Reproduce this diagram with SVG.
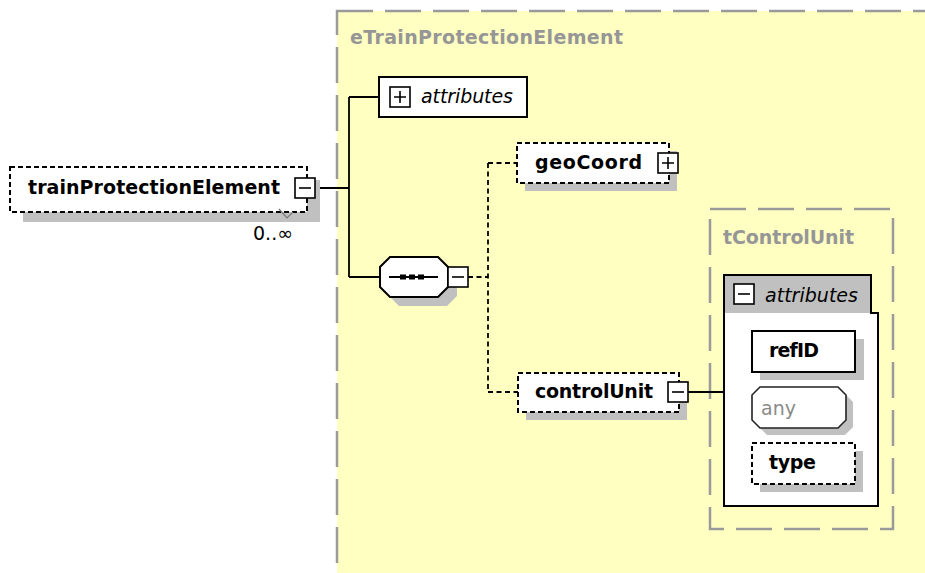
<svg xmlns="http://www.w3.org/2000/svg" width="925" height="573" viewBox="0 0 925 573">
  <style>
    .name { font-family: "DejaVu Sans", Verdana, sans-serif; font-weight: bold; font-size: 19px; fill: #000; }
    .title { font-family: "DejaVu Sans", Verdana, sans-serif; font-weight: bold; font-size: 19px; fill: #969696; }
    .attr { font-family: "DejaVu Sans", Verdana, sans-serif; font-style: italic; font-size: 19px; fill: #000; }
    .plain { font-family: "DejaVu Sans", Verdana, sans-serif; font-size: 19px; fill: #000; }
    .anytxt { font-family: "DejaVu Sans", Verdana, sans-serif; font-size: 19px; fill: #8a8a8a; }
    .type-box { fill: #FFFFC2; stroke: #9a9a9a; stroke-width: 2.5; stroke-dasharray: 36 12; }
    .shadow { fill: #C0C0C0; stroke: none; }
    .solid { fill: #fff; stroke: #000; stroke-width: 2; }
    .dashed { fill: #fff; stroke: #000; stroke-width: 2; stroke-dasharray: 5 3; }
    .btn { fill: #fff; stroke: #000; stroke-width: 1.6; }
    .sign { stroke: #000; stroke-width: 1.6; fill: none; }
    .link { stroke: #000; stroke-width: 1.8; fill: none; }
    .link-opt { stroke: #000; stroke-width: 1.8; fill: none; stroke-dasharray: 5 3.5; }
  </style>

  <rect width="925" height="573" fill="#fff"/>

  <!-- complex type eTrainProtectionElement -->
  <g id="eTrainProtectionElement">
    <rect class="type-box" x="337" y="11" width="640" height="620"/>
    <text class="title" x="350" y="44" textLength="273">eTrainProtectionElement</text>
  </g>

  <!-- complex type tControlUnit -->
  <g id="tControlUnit">
    <rect class="type-box" x="710" y="209" width="183" height="320"/>
    <text class="title" x="723" y="244" textLength="131">tControlUnit</text>
  </g>

  <!-- connectors -->
  <g id="connectors">
    <path class="link" d="M315,188 H349 M349,97 V277 M349,97 H379 M349,277 H380"/>
    <path class="link-opt" d="M468,277 H488 M488,163 V392 M488,163 H517 M488,392 H518"/>
    <path class="link" d="M688,392 H724"/>
  </g>

  <!-- root element -->
  <g id="trainProtectionElement">
    <rect class="shadow" x="23" y="180" width="297" height="42"/>
    <rect class="dashed" x="10" y="167" width="297" height="45"/>
    <path d="M279,209 L287,218 L293,212" stroke="#777" stroke-width="1.2" fill="none"/>
    <text class="name" x="28" y="194" textLength="252">trainProtectionElement</text>
    <rect class="btn" x="295" y="178" width="20" height="20"/>
    <path class="sign" d="M299,188 H311"/>
    <text class="plain" x="253" y="240">0..∞</text>
  </g>

  <!-- attribute group (collapsed) -->
  <g id="attributes-top">
    <rect class="solid" x="379" y="77" width="148" height="40"/>
    <rect class="btn" x="390" y="87" width="20" height="20"/>
    <path class="sign" d="M394,97 H406 M400,91 V103"/>
    <text class="attr" x="421" y="103" textLength="92">attributes</text>
  </g>

  <!-- sequence compositor -->
  <g id="sequence">
    <path class="shadow" d="M399,266 H447 L457,276 V296 L447,306 H399 L389,296 V276 Z"/>
    <path class="solid" d="M390,257 H438 L448,267 V287 L438,297 H390 L380,287 V267 Z"/>
    <path d="M389,277 H438" stroke="#000" stroke-width="2"/>
    <rect x="400" y="274.5" width="6" height="5" fill="#000"/>
    <rect x="409" y="274.5" width="6" height="5" fill="#000"/>
    <rect x="418" y="274.5" width="6" height="5" fill="#000"/>
    <rect class="btn" x="448" y="267" width="20" height="20"/>
    <path class="sign" d="M452,277 H464"/>
  </g>

  <!-- optional element geoCoord -->
  <g id="geoCoord">
    <rect class="shadow" x="525" y="151" width="152" height="40"/>
    <rect class="dashed" x="517" y="143" width="152" height="40"/>
    <text class="name" x="535" y="169" textLength="107">geoCoord</text>
    <rect class="btn" x="658" y="153" width="20" height="20"/>
    <path class="sign" d="M662,163 H674 M668,157 V169"/>
  </g>

  <!-- optional element controlUnit -->
  <g id="controlUnit">
    <rect class="shadow" x="526" y="381" width="161" height="39"/>
    <rect class="dashed" x="518" y="373" width="161" height="39"/>
    <text class="name" x="535" y="398" textLength="118">controlUnit</text>
    <rect class="btn" x="668" y="382" width="20" height="20"/>
    <path class="sign" d="M672,392 H684"/>
  </g>

  <!-- expanded attribute group of tControlUnit -->
  <g id="attributes-tControlUnit">
    <rect x="724" y="275" width="147" height="38" fill="#C0C0C0"/>
    <rect x="724" y="313" width="154" height="193" fill="#fff"/>
    <path d="M724,275 H871 V313 H878 V506 H724 Z" fill="none" stroke="#000" stroke-width="2"/>
    <rect class="btn" x="734" y="284" width="20" height="20"/>
    <path class="sign" d="M738,294 H750"/>
    <text class="attr" x="765" y="302" textLength="93">attributes</text>
  </g>

  <!-- attribute refID -->
  <g id="refID">
    <rect class="shadow" x="760" y="339" width="104" height="41"/>
    <rect class="solid" x="752" y="331" width="103" height="41"/>
    <text class="name" x="769" y="357" textLength="50">refID</text>
  </g>

  <!-- any attribute wildcard -->
  <g id="anyAttribute">
    <path class="shadow" d="M767,394 H845 L853,402 V427 L845,435 H767 L759,427 V402 Z"/>
    <path d="M760,387 H838 L846,395 V420 L838,428 H760 L752,420 V395 Z" fill="#fff" stroke="#222" stroke-width="1.6"/>
    <text class="anytxt" x="761" y="415" textLength="35">any</text>
  </g>

  <!-- optional attribute type -->
  <g id="type">
    <rect class="shadow" x="760" y="451" width="103" height="41"/>
    <rect class="dashed" x="752" y="443" width="103" height="41"/>
    <text class="name" x="769" y="469" textLength="47">type</text>
  </g>
</svg>
